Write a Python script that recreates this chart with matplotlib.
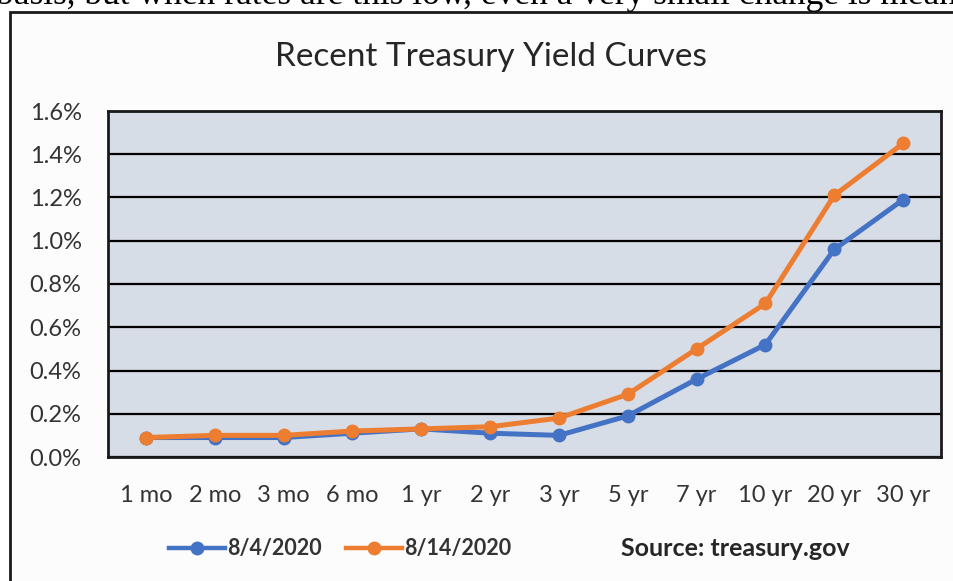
import matplotlib
matplotlib.use('Agg')
import matplotlib.pyplot as plt
from matplotlib.patches import Rectangle
from matplotlib.lines import Line2D
from matplotlib.ticker import FuncFormatter, MultipleLocator

# data
maturities = ['1 mo', '2 mo', '3 mo', '6 mo', '1 yr', '2 yr', '3 yr', '5 yr', '7 yr', '10 yr', '20 yr', '30 yr']
yields_aug4 = [0.09, 0.09, 0.09, 0.11, 0.13, 0.11, 0.10, 0.19, 0.36, 0.52, 0.96, 1.19]
yields_aug14 = [0.09, 0.10, 0.10, 0.12, 0.13, 0.14, 0.18, 0.29, 0.50, 0.71, 1.21, 1.45]
series_labels = ['8/4/2020', '8/14/2020']

blue = '#4472C4'
orange = '#ED7D31'
font = 'Lato'

W, H = 954, 581
fig = plt.figure(figsize=(W / 100, H / 100), dpi=100)
fig.patch.set_facecolor('white')

# outer chart frame (cut off on right and bottom, like the screenshot)
frame = Rectangle((10 / W, -0.05), 1.0, 1 - 12 / H + 0.05, transform=fig.transFigure,
                  facecolor='#FCFCFC', edgecolor='#1a1a1a', linewidth=2, zorder=-5)
fig.add_artist(frame)

# clipped line of body text above the chart
fig.text(-0.004, 1 - 4 / H, 'basis, but when rates are this low, even a very small change is mean',
         family='Liberation Serif', fontsize=25.5, va='baseline', ha='left', color='black')

ax = fig.add_axes([108 / W, 1 - 457 / H, 833 / W, 346 / H])
ax.set_facecolor('#D7DDE6')
x = range(len(maturities))
ax.plot(x, yields_aug4, color=blue, lw=3.6, marker='o', ms=9, zorder=3)
ax.plot(x, yields_aug14, color=orange, lw=3.6, marker='o', ms=9, zorder=4)

ax.set_xlim(-0.55, len(maturities) - 0.45)
ax.set_ylim(0, 1.6)
ax.yaxis.set_major_locator(MultipleLocator(0.2))
ax.yaxis.set_major_formatter(FuncFormatter(lambda v, p: '%.1f%%' % v))
ax.set_xticks(list(x))
ax.set_xticklabels(maturities)
ax.grid(axis='y', color='black', lw=1.6)
ax.set_axisbelow(True)
for s in ax.spines.values():
    s.set_color('#1a1a1a')
    s.set_linewidth(2)
ax.tick_params(length=0, labelsize=17, colors='#333333')
ax.tick_params(axis='y', pad=19)
ax.tick_params(axis='x', pad=20)
for lab in ax.get_xticklabels() + ax.get_yticklabels():
    lab.set_family(font)

fig.text(491 / W, 1 - 57 / H, 'Recent Treasury Yield Curves', family=font, fontsize=24,
         ha='center', va='center', color='#262626')

handles = [Line2D([], [], color=blue, lw=3.2, marker='o', ms=9),
           Line2D([], [], color=orange, lw=3.2, marker='o', ms=9)]
leg = fig.legend(handles, series_labels, loc='center', bbox_to_anchor=(340 / W, 1 - 549 / H),
                 ncol=2, frameon=False, handlelength=2.6, handletextpad=0.1, columnspacing=1.15,
                 borderpad=0, prop={'family': font, 'size': 15.5, 'weight': 'bold'})
for t in leg.get_texts():
    t.set_color('#333333')

fig.text(735 / W, 1 - 549 / H, 'Source: treasury.gov', family=font, fontsize=18,
         fontweight='bold', ha='center', va='center', color='#262626')

fig.savefig('out.png', dpi=100)
